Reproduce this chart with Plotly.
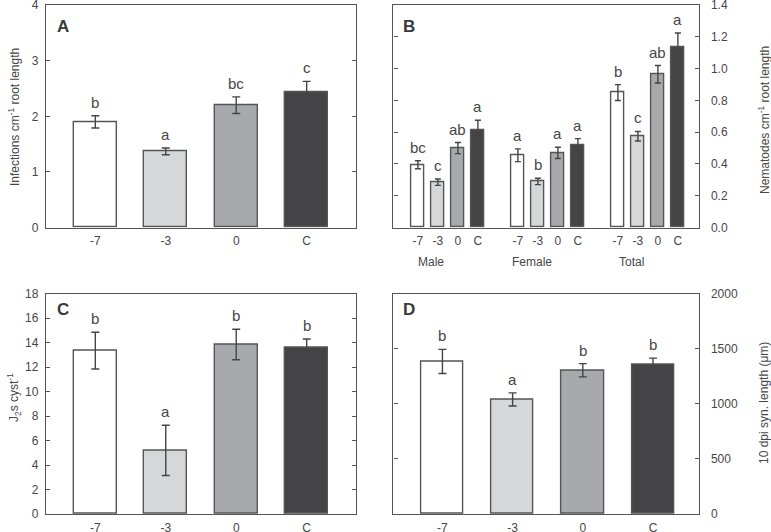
import plotly.graph_objects as go

W, H = 771, 532
FONT = "Liberation Sans, Arial, sans-serif"
TXT = "#464646"
LINE = "#555555"

categories = ["-7", "-3", "0", "C"]
bar_colors = ["#ffffff", "#d6d7d9", "#a7a9ac", "#444446"]

# Panel A: infections per cm root length
a_vals = [1.90, 1.37, 2.20, 2.43]
a_err = [0.11, 0.06, 0.15, 0.20]
a_letters = ["b", "a", "bc", "c"]

# Panel B: nematodes per cm root length
b_groups = ["Male", "Female", "Total"]
b_vals = [[0.395, 0.285, 0.50, 0.615],
          [0.455, 0.29, 0.47, 0.52],
          [0.85, 0.575, 0.965, 1.135]]
b_err = [[0.025, 0.02, 0.035, 0.06],
         [0.04, 0.02, 0.035, 0.04],
         [0.05, 0.03, 0.055, 0.09]]
b_letters = [["bc", "c", "ab", "a"],
             ["a", "b", "a", "a"],
             ["b", "c", "ab", "a"]]

# Panel C: J2s per cyst
c_vals = [13.35, 5.2, 13.85, 13.6]
c_err = [1.5, 2.05, 1.25, 0.7]
c_letters = ["b", "a", "b", "b"]

# Panel D: 10 dpi syncytium length (um)
d_vals = [1385, 1040, 1305, 1355]
d_err = [110, 60, 60, 60]
d_letters = ["b", "a", "b", "b"]


def px_dom(a, b, total, flip=False):
    if flip:
        return [1 - b / total, 1 - a / total]
    return [a / total, b / total]


idx = list(range(len(categories)))

fig = go.Figure()

err_style = dict(type="data", color="#444444", thickness=1.4)
bar_line = dict(color=LINE, width=1.4)

# ---- A ----
fig.add_trace(go.Bar(x=idx, y=a_vals, width=0.61,
                     marker=dict(color=bar_colors, line=bar_line),
                     error_y=dict(array=a_err, width=4, **err_style),
                     xaxis="x", yaxis="y", showlegend=False))
# ---- B ----
b_x, b_y, b_e, b_c, b_t, b_l = [], [], [], [], [], []
for g in range(len(b_groups)):
    for i in range(len(categories)):
        b_x.append(g * 5 + i)
        b_y.append(b_vals[g][i])
        b_e.append(b_err[g][i])
        b_c.append(bar_colors[i])
        b_t.append(categories[i])
        b_l.append(b_letters[g][i])
fig.add_trace(go.Bar(x=b_x, y=b_y, width=0.63,
                     marker=dict(color=b_c, line=bar_line),
                     error_y=dict(array=b_e, width=3, **err_style),
                     xaxis="x2", yaxis="y2", showlegend=False))
# ---- C ----
fig.add_trace(go.Bar(x=idx, y=c_vals, width=0.61,
                     marker=dict(color=bar_colors, line=bar_line),
                     error_y=dict(array=c_err, width=4, **err_style),
                     xaxis="x3", yaxis="y3", showlegend=False))
# ---- D ----
fig.add_trace(go.Bar(x=idx, y=d_vals, width=0.6,
                     marker=dict(color=bar_colors, line=bar_line),
                     error_y=dict(array=d_err, width=4, **err_style),
                     xaxis="x4", yaxis="y4", showlegend=False))

tickfont = dict(family=FONT, size=12, color=TXT)
common_x = dict(showline=True, linecolor=LINE, linewidth=1.4, mirror=True, ticks="", ticklen=0,
                showgrid=False, zeroline=False, tickfont=tickfont, automargin=False,
                ticklabelstandoff=2, ticklabeloverflow="allow")
common_y = dict(showline=True, linecolor=LINE, linewidth=1.4, mirror="ticks", ticks="inside",
                ticklen=4, tickcolor=LINE, tickwidth=1.2, showgrid=False, zeroline=False,
                tickfont=tickfont, automargin=False, ticklabeloverflow="allow")

xA = px_dom(46, 356, W)
xB = px_dom(393.3, 699.3, W)
yTop = px_dom(5.2, 227.5, H, flip=True)
yBot = px_dom(293.7, 514, H, flip=True)

fig.update_layout(
    width=W, height=H, autosize=False,
    margin=dict(l=0, r=0, t=0, b=0, pad=0),
    paper_bgcolor="white", plot_bgcolor="white",
    font=dict(family=FONT, color=TXT),
    bargap=0,
    xaxis=dict(domain=xA, anchor="y", range=[-0.7, 3.7], tickvals=idx, ticktext=categories, **common_x),
    yaxis=dict(domain=yTop, anchor="x", range=[0, 4], dtick=1, ticklabelstandoff=4, **common_y),
    xaxis2=dict(domain=xB, anchor="y2", range=[-1.23, 14.07], tickvals=b_x, ticktext=b_t, **common_x),
    yaxis2=dict(domain=yTop, anchor="x2", range=[0, 1.4], dtick=0.2, tickformat=".1f", side="right",
                ticklabelstandoff=8, **common_y),
    xaxis3=dict(domain=xA, anchor="y3", range=[-0.7, 3.7], tickvals=idx, ticktext=categories, **common_x),
    yaxis3=dict(domain=yBot, anchor="x3", range=[0, 18], dtick=2, ticklabelstandoff=4, **common_y),
    xaxis4=dict(domain=xB, anchor="y4", range=[-0.7, 3.66], tickvals=idx, ticktext=categories, **common_x),
    yaxis4=dict(domain=yBot, anchor="x4", range=[0, 2000], dtick=500, side="right",
                ticklabelstandoff=8, **common_y),
)

ann = []
letter_font = dict(family=FONT, size=15, color=TXT)


def add_letters(xs, vals, errs, letters, xr, yr):
    for x, v, e, t in zip(xs, vals, errs, letters):
        ann.append(dict(x=x, y=v + e, xref=xr, yref=yr, text=t, showarrow=False,
                        yanchor="bottom", yshift=3, font=letter_font))


add_letters(idx, a_vals, a_err, a_letters, "x", "y")
add_letters(b_x, b_y, b_e, b_l, "x2", "y2")
add_letters(idx, c_vals, c_err, c_letters, "x3", "y3")
add_letters(idx, d_vals, d_err, d_letters, "x4", "y4")

# group labels for B
for g, name in enumerate(b_groups):
    ann.append(dict(x=g * 5 + 0.68, y=1 - 262 / H, xref="x2", yref="paper", text=name,
                    showarrow=False, yanchor="middle", font=dict(family=FONT, size=12, color=TXT)))

# panel letters
for lab, px, py in [("A", 55, 27), ("B", 401, 27), ("C", 55, 309), ("D", 401, 309)]:
    ann.append(dict(x=px / W, y=1 - py / H, xref="paper", yref="paper", text="<b>%s</b>" % lab,
                    showarrow=False, xanchor="left", yanchor="middle",
                    font=dict(family=FONT, size=17, color="#3a3a3a")))

# axis titles
title_font = dict(family=FONT, size=12, color=TXT)
for txt, px, py in [("Infections cm<sup>-1</sup> root length", 14, 117),
                    ("Nematodes cm<sup>-1</sup> root length", 764, 120),
                    ("J<sub>2</sub>s cyst<sup>-1</sup>", 14, 398),
                    ("10 dpi syn. length (μm)", 764, 403)]:
    ann.append(dict(x=px / W, y=1 - py / H, xref="paper", yref="paper", text=txt,
                    showarrow=False, textangle=-90, xanchor="center", yanchor="middle",
                    font=title_font))

fig.update_layout(annotations=ann)
fig.write_html("out.html", config={"displayModeBar": False},
               post_script="document.body.style.margin='0';document.body.style.overflow='hidden';")
